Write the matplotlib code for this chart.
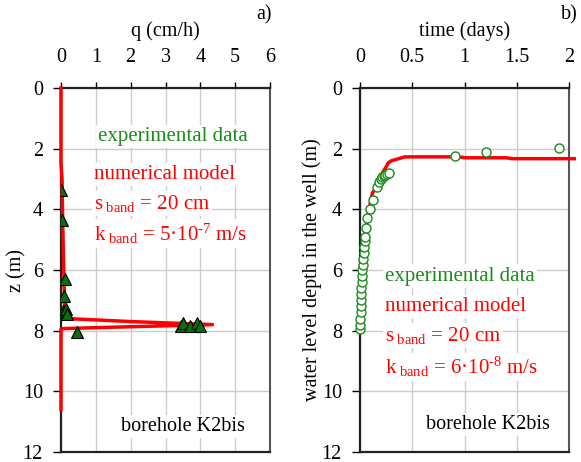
import matplotlib
matplotlib.use("Agg")
import matplotlib.pyplot as plt

plt.rcParams["font.family"] = ["Liberation Serif", "DejaVu Serif"]
plt.rcParams["mathtext.fontset"] = "custom"
plt.rcParams["mathtext.rm"] = "Liberation Serif"
plt.rcParams["mathtext.it"] = "Liberation Serif:italic"

# panel a) flow profile
q_exp = [0.0, 0.02, 0.12, 0.1, 0.05, 0.15, 0.18, 3.45, 3.5, 3.7, 3.9, 4.0, 0.45]
z_exp = [3.35, 4.35, 6.3, 6.85, 7.35, 7.3, 7.45, 7.85, 7.75, 7.85, 7.75, 7.85, 8.03]
q_mod = [0.0, 0.0, 0.03, 0.05, 0.08, 0.1, 0.12, 0.15, 2.0, 4.35, 2.0, 0.1, 0.0, 0.0]
z_mod = [0.0, 2.5, 3.0, 4.5, 6.0, 7.0, 7.55, 7.6, 7.7, 7.8, 7.87, 7.93, 7.95, 10.6]

# panel b) water level recovery
t_exp = [0.0, 0.0, 0.003, 0.005, 0.007, 0.009, 0.011, 0.013, 0.016, 0.019,
         0.022, 0.025, 0.03, 0.035, 0.04, 0.045, 0.05, 0.058, 0.07, 0.1,
         0.125, 0.165, 0.18, 0.2, 0.21, 0.225, 0.24, 0.26, 0.28, 0.91, 1.21, 1.9]
d_exp = [7.95, 7.8, 7.6, 7.4, 7.2, 7.0, 6.8, 6.6, 6.4, 6.2,
         6.0, 5.85, 5.65, 5.45, 5.25, 5.05, 4.9, 4.6, 4.3, 4.0,
         3.7, 3.25, 3.1, 3.0, 2.95, 2.9, 2.87, 2.82, 2.8, 2.23, 2.12, 1.98]
t_mod = [0.0, 0.02, 0.05, 0.08, 0.12, 0.14, 0.19, 0.25, 0.27, 0.3, 0.4, 0.43,
         0.5, 0.95, 1.0, 1.4, 1.45, 2.05]
d_mod = [8.0, 6.0, 4.8, 4.1, 3.45, 3.36, 2.93, 2.6, 2.47, 2.4, 2.3, 2.27,
         2.27, 2.27, 2.3, 2.3, 2.33, 2.33]

fig = plt.figure(figsize=(5.81, 4.62), dpi=100)
ax1 = fig.add_axes([61 / 581, 10 / 462, 209 / 581, 364 / 462])
ax2 = fig.add_axes([360 / 581, 10 / 462, 209 / 581, 364 / 462])

green = "#1a8a1a"
fs_tick = 14.5
fs_txt = 15
box = dict(facecolor="white", edgecolor="none", pad=1.5)

for ax in (ax1, ax2):
    ax.set_ylim(12, 0)
    ax.set_yticks(range(0, 13, 2))
    ax.xaxis.tick_top()
    ax.xaxis.set_label_position("top")
    ax.grid(True, color="#cccccc", linewidth=1)
    ax.set_axisbelow(True)
    ax.tick_params(axis="x", direction="out", length=4, width=1, labelsize=fs_tick, pad=11)
    ax.tick_params(axis="y", direction="out", length=6, width=1, labelsize=fs_tick, pad=7)
    for side in ("left", "top", "bottom"):
        ax.spines[side].set_color("#222222")
        ax.spines[side].set_linewidth(1.6)
    ax.spines["right"].set_color("#555555")
    ax.spines["right"].set_linewidth(1.5)

# a)
ax1.set_xlim(0, 6)
ax1.set_xticks(range(0, 7))
ax1.plot(q_mod, z_mod, color="red", linewidth=2.5, zorder=3, clip_on=False)
ax1.plot(q_exp, z_exp, linestyle="none", marker="^", markersize=8,
         markerfacecolor="#0a6e0a", markeredgecolor="black", markeredgewidth=0.8, zorder=4)
ax1.set_xlabel("q (cm/h)", fontsize=fs_tick, labelpad=9)
ax1.set_ylabel("z (m)", fontsize=fs_tick, labelpad=-3)
ax1.text(3.2, 1.6, "experimental data", color=green, fontsize=fs_txt,
         ha="center", va="center", bbox=box, zorder=5)
ax1.text(0.95, 2.85, "numerical model", color="red", fontsize=fs_txt,
         ha="left", va="center", bbox=box, zorder=5)
ax1.text(0.95, 3.8, r"s$_{\mathrm{\ band}}$ = 20 cm", color="red", fontsize=fs_txt,
         ha="left", va="center", bbox=box, zorder=5)
ax1.text(0.95, 4.8, "k$_{\\mathrm{\\ band}}$ = 5·10$^{\\mathrm{\u20107}}$ m/s", color="red",
         fontsize=fs_txt, ha="left", va="center", bbox=box, zorder=5)
ax1.text(3.5, 11.15, "borehole K2bis", color="black", fontsize=fs_tick,
         ha="center", va="center", bbox=box, zorder=5)
ax1.text(1.01, 1.2, "a)", transform=ax1.transAxes, fontsize=fs_tick, ha="right", va="center")

# b)
ax2.set_xlim(0, 2)
ax2.set_xticks([0, 0.5, 1, 1.5, 2])
ax2.set_xticklabels(["0", "0.5", "1", "1.5", "2"])
ax2.plot(t_mod, d_mod, color="red", linewidth=2.5, zorder=3, clip_on=False)
ax2.plot(t_exp, d_exp, linestyle="none", marker="o", markersize=6.5,
         markerfacecolor="white", markeredgecolor=green, markeredgewidth=1, zorder=4,
         clip_on=False)
ax2.set_xlabel("time (days)", fontsize=fs_tick, labelpad=9)
ax2.set_ylabel("water level depth in the well (m)", fontsize=fs_tick, labelpad=0)
ax2.text(0.24, 6.2, "experimental data", color=green, fontsize=fs_txt,
         ha="left", va="center", bbox=box, zorder=5)
ax2.text(0.24, 7.2, "numerical model", color="red", fontsize=fs_txt,
         ha="left", va="center", bbox=box, zorder=5)
ax2.text(0.24, 8.15, r"s$_{\mathrm{\ band}}$ = 20 cm", color="red", fontsize=fs_txt,
         ha="left", va="center", bbox=box, zorder=5)
ax2.text(0.24, 9.2, "k$_{\\mathrm{\\ band}}$ = 6·10$^{\\mathrm{\u20108}}$ m/s", color="red",
         fontsize=fs_txt, ha="left", va="center", bbox=box, zorder=5)
ax2.text(1.22, 11.1, "borehole K2bis", color="black", fontsize=fs_tick,
         ha="center", va="center", bbox=box, zorder=5)
ax2.text(1.04, 1.2, "b)", transform=ax2.transAxes, fontsize=fs_tick, ha="right", va="center")

fig.savefig("out.png", dpi=100)
